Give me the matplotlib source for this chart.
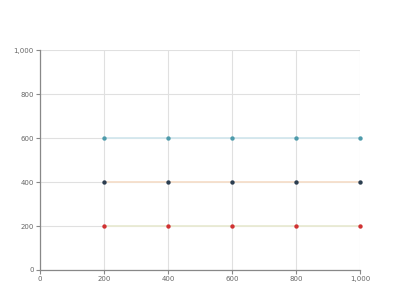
import matplotlib
matplotlib.use('Agg')
import matplotlib.pyplot as plt
from matplotlib.ticker import FuncFormatter

# data
x_vals = [200, 400, 600, 800, 1000]
top_series = [600, 600, 600, 600, 600]
mid_series = [400, 400, 400, 400, 400]
low_series = [200, 200, 200, 200, 200]
x_ticks = [0, 200, 400, 600, 800, 1000]
y_ticks = [0, 200, 400, 600, 800, 1000]

fig = plt.figure(figsize=(4, 3), dpi=100)
ax = fig.add_axes([0.1, 0.1, 0.8, 0.7333])

# faint lines behind, markers on top
ax.plot(x_vals, top_series, color='#d3e7ee', lw=1.3, zorder=2)
ax.plot(x_vals, mid_series, color='#f6dfcb', lw=1.3, zorder=2)
ax.plot(x_vals, low_series, color='#e9ebd3', lw=1.3, zorder=2)
ax.scatter(x_vals, top_series, s=10, color='#4e9bab', zorder=3, linewidths=0, clip_on=False)
ax.scatter(x_vals, mid_series, s=10, color='#2c3e50', zorder=3, linewidths=0, clip_on=False)
ax.scatter(x_vals, low_series, s=10, color='#d03232', zorder=3, linewidths=0, clip_on=False)

ax.set_xlim(0, 1000)
ax.set_ylim(0, 1000)
ax.set_xticks(x_ticks)
ax.set_yticks(y_ticks)
fmt = FuncFormatter(lambda v, p: f'{int(v):,}')
ax.xaxis.set_major_formatter(fmt)
ax.yaxis.set_major_formatter(fmt)

ax.grid(True, color='#e0e0e0', lw=0.8, zorder=0)
ax.set_axisbelow(True)
for side in ['top', 'right']:
    ax.spines[side].set_visible(False)
for side in ['left', 'bottom']:
    ax.spines[side].set_color('#888888')
    ax.spines[side].set_linewidth(0.9)
ax.tick_params(colors='#888888', labelcolor='#666666', labelsize=5,
               length=3, width=0.8, pad=1.5)

fig.savefig('out.png', dpi=100)
